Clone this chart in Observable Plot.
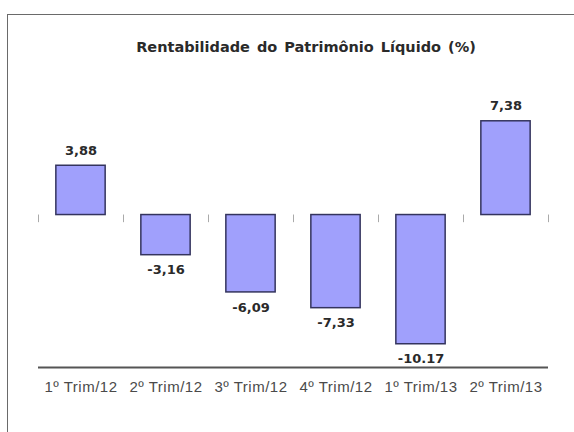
<!DOCTYPE html>
<html><head><meta charset="utf-8">
<script src="https://cdn.jsdelivr.net/npm/d3@7"></script>
<script src="https://cdn.jsdelivr.net/npm/@observablehq/plot@0.6"></script>
<style>
html,body{margin:0;padding:0;background:#fff;overflow:hidden;}
#wrap{position:relative;width:574px;height:432px;overflow:hidden;}
#border{position:absolute;left:7px;top:14px;width:620px;height:480px;border:1px solid #6a6a6a;pointer-events:none;}
#title{height:70px;box-sizing:border-box;padding-top:38px;padding-left:38px;text-align:center;font:bold 14.5px "DejaVu Sans";color:#2a2a2a;word-spacing:2px;line-height:18px;white-space:nowrap;}
#chart svg g[aria-label="x-axis tick label"] text{letter-spacing:0.5px;}
</style></head><body>
<div id="wrap"><div id="title">Rentabilidade do Patrimônio Líquido (%)</div><div id="chart"></div><div id="border"></div></div>
<script>
const categories = ["1º Trim/12", "2º Trim/12", "3º Trim/12", "4º Trim/12", "1º Trim/13", "2º Trim/13"];
const values = [3.88, -3.16, -6.09, -7.33, -10.17, 7.38];
const valueLabels = ["3,88", "-3,16", "-6,09", "-7,33", "-10.17", "7,38"];
const yDomain = [-12, 10];

const data = categories.map((c, i) => ({i, c, v: values[i], label: valueLabels[i]}));
const half = 0.29;

const chart = Plot.plot({
  width: 574, height: 362,
  marginLeft: 38, marginRight: 26, marginTop: 17.5, marginBottom: 65,
  style: {fontFamily: "Liberation Sans", fontSize: "15px", background: "transparent"},
  x: {domain: [-0.5, categories.length - 0.5], axis: null, label: null},
  y: {domain: yDomain, axis: null, label: null},
  marks: [
    Plot.ruleX(d3.range(categories.length + 1).map(k => k - 0.5), {y1: 0, y2: -0.6, stroke: "#aaa", strokeWidth: 1}),
    Plot.rect(data, {x1: d => d.i - half, x2: d => d.i + half, y1: 0, y2: "v", fill: "#a0a0fc", stroke: "#34345e", strokeWidth: 1.5}),
    Plot.text(data.filter(d => d.v >= 0), {x: "i", y: "v", text: "label", dy: -15, fontFamily: "DejaVu Sans", fontWeight: "bold", fontSize: 13, fill: "#2a2a2a"}),
    Plot.text(data.filter(d => d.v < 0), {x: "i", y: "v", text: "label", dy: 15, fontFamily: "DejaVu Sans", fontWeight: "bold", fontSize: 13, fill: "#2a2a2a"}),
    Plot.ruleY([yDomain[0]], {stroke: "#555", strokeWidth: 2}),
    Plot.axisX(d3.range(categories.length), {tickFormat: i => categories[i], tickSize: 0, tickPadding: 14, fontSize: 15, fill: "#4a4a4a", label: null})
  ]
});
document.getElementById("chart").append(chart);
</script>
</body></html>
